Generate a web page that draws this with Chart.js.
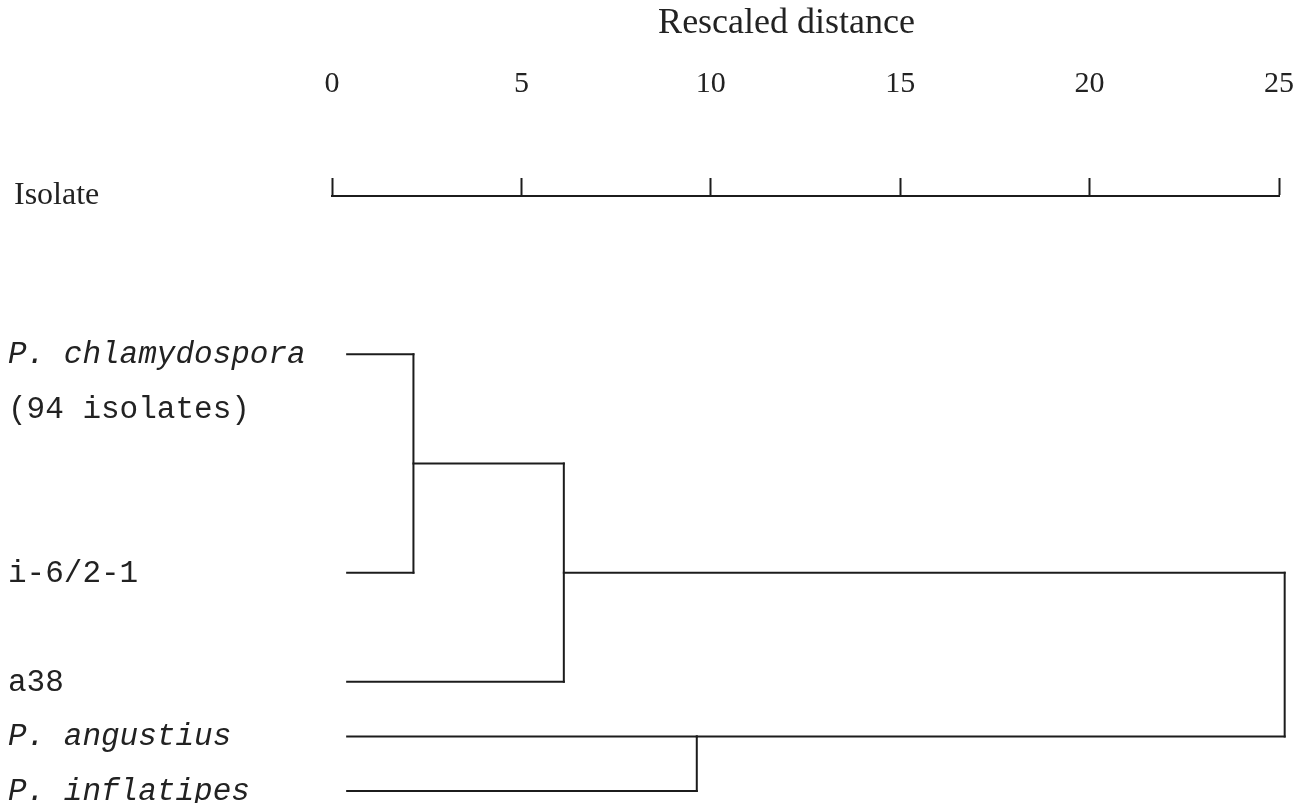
<!DOCTYPE html>
<html>
<head>
<meta charset="utf-8">
<script src="https://cdn.jsdelivr.net/npm/chart.js@4.4.1/dist/chart.umd.min.js"></script>
<style>
  html, body { margin: 0; padding: 0; background: #fff; overflow: hidden; }
  #wrap { width: 1307px; height: 803px; position: relative; }
  canvas { display: block; }
</style>
</head>
<body>
<div id="wrap"><canvas id="dendro"></canvas></div>
<script>
// axis ticks (rescaled distance)
const tickValues = [0, 5, 10, 15, 20, 25];

// leaf labels and the row each one sits on
const labelText = ["P. chlamydospora", "(94 isolates)", "i-6/2-1", "a38", "P. angustius", "P. inflatipes"];
const labelRow = [0, 1, 4, 6, 7, 8];
const labelItalic = [true, false, false, false, true, true];

// horizontal branches: row, start distance, end distance
const branchRow = [0, 4, 6, 7, 8, 2, 4, 7];
const branchFrom = [0.4, 0.4, 0.4, 0.4, 0.4, 2.15, 6.12, 9.63];
const branchTo = [2.15, 2.15, 6.12, 9.63, 9.63, 6.12, 25.15, 25.15];

// vertical joins: distance where clusters merge, top row, bottom row
const joinDist = [2.15, 6.12, 9.63, 25.15];
const joinTop = [0, 2, 7, 4];
const joinBottom = [4, 6, 8, 7];

const ink = "#1c1c1c";
const serif = "'Liberation Serif', 'Times New Roman', serif";
const mono = "'Liberation Mono', 'Courier New', monospace";

const datasets = [];
branchRow.forEach((row, i) => {
  datasets.push({
    data: [{ x: branchFrom[i], y: row }, { x: branchTo[i], y: row }],
  });
});
joinDist.forEach((d, i) => {
  datasets.push({
    data: [{ x: d, y: joinTop[i] }, { x: d, y: joinBottom[i] }],
  });
});
datasets.forEach((ds) => {
  ds.borderColor = ink;
  ds.borderWidth = 2;
  ds.borderCapStyle = "square";
  ds.pointRadius = 0;
  ds.fill = false;
  ds.clip = false;
});

// draws leaf names, the "Isolate" heading and the axis title
const textPlugin = {
  id: "dendroText",
  afterDraw(chart) {
    const ctx = chart.ctx;
    const xs = chart.scales.x;
    const ys = chart.scales.y;
    ctx.save();
    ctx.fillStyle = "#222";
    ctx.textBaseline = "alphabetic";

    ctx.textAlign = "left";
    labelText.forEach((txt, i) => {
      ctx.font = (labelItalic[i] ? "italic " : "") + "31px " + mono;
      ctx.fillText(txt, 8, ys.getPixelForValue(labelRow[i]) + 9);
    });

    ctx.font = "32px " + serif;
    ctx.fillText("Isolate", 14, xs.bottom + 8);

    ctx.textAlign = "center";
    ctx.font = "36px " + serif;
    ctx.fillText("Rescaled distance", xs.getPixelForValue(12), 33);
    ctx.restore();
  },
};

new Chart(document.getElementById("dendro"), {
  type: "line",
  data: { datasets: datasets },
  options: {
    responsive: true,
    maintainAspectRatio: false,
    animation: false,
    events: [],
    layout: { padding: { left: 332, right: 28, top: 0, bottom: 0 } },
    plugins: { legend: { display: false }, tooltip: { enabled: false } },
    scales: {
      x: {
        type: "linear",
        position: "top",
        min: 0,
        max: 25,
        afterBuildTicks: (scale) => {
          scale.ticks = tickValues.map((v) => ({ value: v }));
        },
        afterFit: (scale) => {
          // big label gap would otherwise be added as side padding
          scale.height = 196;
          scale.paddingLeft = 0;
          scale.paddingRight = 0;
        },
        ticks: {
          color: "#222",
          font: { family: serif, size: 30 },
          padding: 76,
          maxRotation: 0,
        },
        grid: {
          drawOnChartArea: false,
          drawTicks: true,
          tickLength: 18,
          tickWidth: 2,
          tickColor: ink,
        },
        border: { display: true, color: ink, width: 2 },
        title: { display: false },
      },
      y: {
        type: "linear",
        display: false,
        reverse: true,
        min: -2.9,
        max: 8.22,
      },
    },
  },
  plugins: [textPlugin],
});
</script>
</body>
</html>
